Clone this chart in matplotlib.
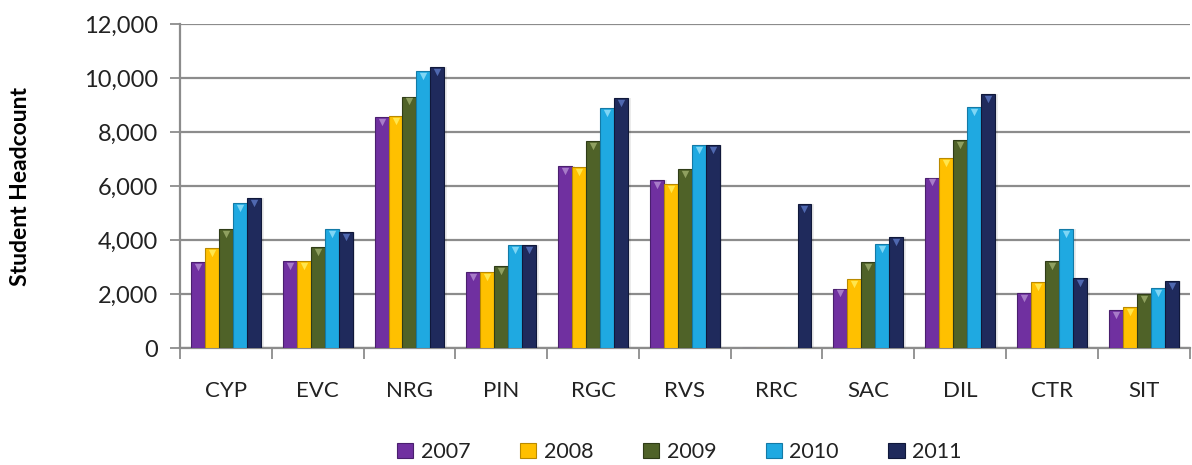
import matplotlib.pyplot as plt
import numpy as np
from matplotlib.ticker import FuncFormatter, FixedLocator

plt.rcParams['font.family'] = ['Lato', 'DejaVu Sans']

# student headcount by college and year
colleges = ["CYP", "EVC", "NRG", "PIN", "RGC", "RVS", "RRC", "SAC", "DIL", "CTR", "SIT"]
years = ["2007", "2008", "2009", "2010", "2011"]
y2007 = [3170, 3220, 8550, 2800, 6740, 6220, 0, 2200, 6310, 2050, 1410]
y2008 = [3700, 3220, 8590, 2800, 6700, 6070, 0, 2540, 7020, 2440, 1530]
y2009 = [4400, 3750, 9310, 3050, 7650, 6620, 0, 3170, 7690, 3220, 2010]
y2010 = [5380, 4390, 10250, 3810, 8880, 7530, 0, 3850, 8910, 4390, 2220]
y2011 = [5550, 4280, 10400, 3810, 9270, 7530, 5320, 4100, 9410, 2580, 2490]
series = [y2007, y2008, y2009, y2010, y2011]

colors = ["#7030A0", "#FFC000", "#4F6228", "#1FA9E1", "#1F2A5C"]
tips = ["#A77BC8", "#FFE64D", "#8FA060", "#7FD6F5", "#4F68B0"]
edges = ["#4A1F6E", "#B98A00", "#2F3C17", "#137AA6", "#10183A"]

fig = plt.figure(figsize=(11.92, 4.65), dpi=100)
ax = fig.add_axes([0.151, 0.2516, 0.847, 0.6968])

x = np.arange(len(colleges))
w = 0.152
for i, (vals, c) in enumerate(zip(series, colors)):
    pos = x + (i - 2) * w
    v = np.array(vals)
    # soft shadow
    ax.bar(pos + 0.03, v, width=w, color="#000000", alpha=0.08, zorder=2,
           linewidth=0)
    ax.bar(pos, v, width=w, color=c, edgecolor=edges[i], linewidth=0.8,
           label=years[i], zorder=3)
    m = v > 0
    ax.scatter(pos[m], v[m] - 180, marker="v", s=28, color=tips[i],
               linewidths=0, zorder=4)

ax.set_xlim(-0.5, len(colleges) - 0.5)
ax.set_ylim(0, 12000)
ax.set_yticks(np.arange(0, 12001, 2000))
ax.yaxis.set_major_formatter(FuncFormatter(lambda v, p: f"{int(v):,}"))
ax.grid(axis="y", color="#8C8C8C", linewidth=1.6, zorder=0)
ax.set_axisbelow(True)

ax.set_xticks(x)
ax.set_xticklabels(colleges)
ax.xaxis.set_minor_locator(FixedLocator(np.arange(-0.5, len(colleges), 1.0)))
ax.tick_params(axis="x", which="major", length=0, pad=24, labelsize=16,
               labelcolor="#222222")
ax.tick_params(axis="x", which="minor", length=8, width=1.3, color="#8C8C8C")
ax.tick_params(axis="y", length=7, width=1.3, color="#8C8C8C", pad=9,
               labelsize=17, labelcolor="#222222")

for s in ["top", "right"]:
    ax.spines[s].set_visible(False)
for s in ["left", "bottom"]:
    ax.spines[s].set_color("#8C8C8C")
    ax.spines[s].set_linewidth(1.6)

ax.set_ylabel("Student Headcount", fontsize=16.5, fontweight="bold")
ax.yaxis.set_label_coords(-0.148, 0.5)

leg = fig.legend(loc="lower center", bbox_to_anchor=(0.57, -0.035), ncol=5,
                 frameon=False, fontsize=15.5, handlelength=0.75, handleheight=0.75,
                 handletextpad=0.35, columnspacing=2.3)
for t in leg.get_texts():
    t.set_color("#222222")

fig.savefig("out.png", dpi=100)
